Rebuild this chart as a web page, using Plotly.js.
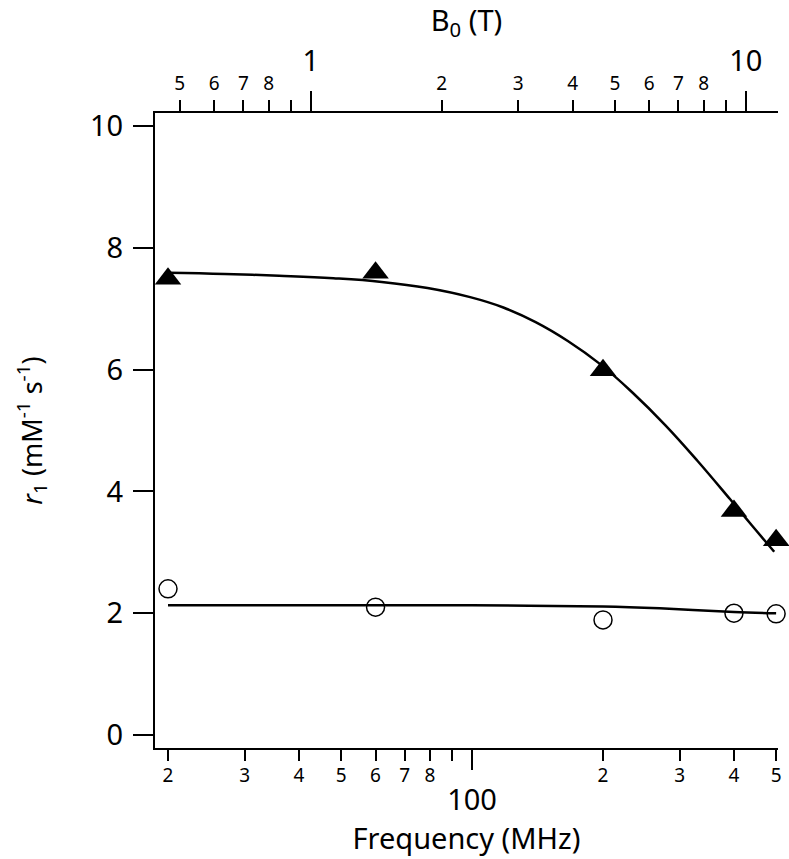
<!DOCTYPE html>
<html>
<head>
<meta charset="utf-8">
<script src="https://cdn.plot.ly/plotly-3.0.1.min.js"></script>
<style>
  body { margin: 0; background: #fff; }
  #myDiv { width: 789px; height: 859px; }
</style>
</head>
<body>
<div id="myDiv"></div>
<script>
// measured points (MHz, r1)
let freq = [20, 60, 200, 400, 500];
let r1Tri = [7.49, 7.59, 5.99, 3.68, 3.2];
let r1Circ = [2.40, 2.10, 1.89, 2.00, 1.99];

// fitted curves
let fitFreqTri = [20, 27, 36, 48, 62, 79, 99, 118, 140, 166, 197, 234, 278, 330, 392, 440, 495];
let fitTri = [7.59, 7.57, 7.54, 7.50, 7.44, 7.34, 7.19, 7.02, 6.78, 6.47, 6.09, 5.62, 5.09, 4.50, 3.87, 3.44, 3.01];
let fitFreqCirc = [20, 60, 100, 200, 270, 400, 500];
let fitCirc = [2.13, 2.13, 2.13, 2.11, 2.08, 2.02, 2.00];

// tick labels
let freqMinorVals = [20, 30, 40, 50, 60, 70, 80, 90, 200, 300, 400, 500];
let freqMinorText = ["2", "3", "4", "5", "6", "7", "8", "", "2", "3", "4", "5"];
let freqMajorVals = [100];
let freqMajorText = ["100"];
let bMinorVals = [0.5, 0.6, 0.7, 0.8, 0.9, 2, 3, 4, 5, 6, 7, 8, 9];
let bMinorText = ["5", "6", "7", "8", "", "2", "3", "4", "5", "6", "7", "8", ""];
let bMajorVals = [1, 10];
let bMajorText = ["1", "10"];
let yTicks = [0, 2, 4, 6, 8, 10];

let gamma = 42.58; // MHz per T
let fMin = 18.67, fMax = 505;
let xRange = [Math.log10(fMin), Math.log10(fMax)];
let bRange = [Math.log10(fMin / gamma), Math.log10(fMax / gamma)];

let fnt = "Noto Sans, sans-serif";
let big = 29, small = 19;

// empty helper trace so an overlaying axis gets drawn
function holder(xa, vals) {
  return {
    x: vals, y: vals.map(() => null), xaxis: xa, yaxis: "y",
    mode: "markers", hoverinfo: "skip", showlegend: false
  };
}

var data = [
  {
    x: fitFreqTri, y: fitTri, mode: "lines",
    line: { color: "#000", width: 2.5, shape: "spline", smoothing: 1.2 },
    hoverinfo: "skip"
  },
  {
    x: fitFreqCirc, y: fitCirc, mode: "lines",
    line: { color: "#000", width: 2.5, shape: "spline", smoothing: 1 },
    hoverinfo: "skip"
  },
  {
    x: freq, y: r1Tri, mode: "markers", cliponaxis: false,
    marker: { symbol: "triangle-up", size: 23, color: "#000" }
  },
  {
    x: freq, y: r1Circ, mode: "markers", cliponaxis: false,
    marker: { symbol: "circle-open", size: 18, color: "#000", line: { width: 1.5, color: "#000" } }
  },
  holder("x2", bMinorVals),
  holder("x3", freqMajorVals),
  holder("x4", bMajorVals)
];

let common = {
  type: "log", showgrid: false, zeroline: false,
  ticks: "outside", tickwidth: 2, tickcolor: "#000",
  tickmode: "array", fixedrange: true, autorange: false
};

var layout = {
  width: 789, height: 859,
  margin: { l: 155, r: 11, t: 113, b: 111, pad: 0 },
  showlegend: false,
  paper_bgcolor: "#fff", plot_bgcolor: "#fff",
  font: { family: fnt, color: "#000" },
  xaxis: Object.assign({}, common, {
    range: xRange, side: "bottom", anchor: "y",
    tickvals: freqMinorVals, ticktext: freqMinorText,
    ticklen: 11, tickfont: { size: small }, ticklabelstandoff: -2,
    showline: true, linewidth: 2, linecolor: "#000"
  }),
  xaxis3: Object.assign({}, common, {
    range: xRange, side: "bottom", anchor: "y", overlaying: "x",
    tickvals: freqMajorVals, ticktext: freqMajorText,
    ticklen: 21, tickfont: { size: big }, ticklabelstandoff: 5,
    showline: false,
    title: { text: "Frequency (MHz)", font: { size: big }, standoff: 0 }
  }),
  xaxis2: Object.assign({}, common, {
    range: bRange, side: "top", anchor: "y", overlaying: "x",
    tickvals: bMinorVals, ticktext: bMinorText,
    ticklen: 11, tickfont: { size: small }, ticklabelstandoff: 2,
    showline: true, linewidth: 2, linecolor: "#000"
  }),
  xaxis4: Object.assign({}, common, {
    range: bRange, side: "top", anchor: "y", overlaying: "x",
    tickvals: bMajorVals, ticktext: bMajorText,
    ticklen: 21, tickfont: { size: big }, ticklabelstandoff: 8,
    showline: false,
    title: { text: "B<sub>0</sub> (T)", font: { size: big }, standoff: 7 }
  }),
  yaxis: {
    range: [-0.213, 10.213], autorange: false, showgrid: false, zeroline: false,
    tickmode: "array", tickvals: yTicks,
    ticks: "outside", ticklen: 20, tickwidth: 2, tickcolor: "#000",
    showline: true, linewidth: 2, linecolor: "#000",
    tickfont: { size: big }, ticklabelstandoff: 4, fixedrange: true,
    title: { text: "<i>r</i><sub>1</sub> (mM<sup>-1</sup> s<sup>-1</sup>)", font: { size: 27 }, standoff: 40 }
  }
};

Plotly.newPlot("myDiv", data, layout, { displayModeBar: false, staticPlot: true });
</script>
</body>
</html>
